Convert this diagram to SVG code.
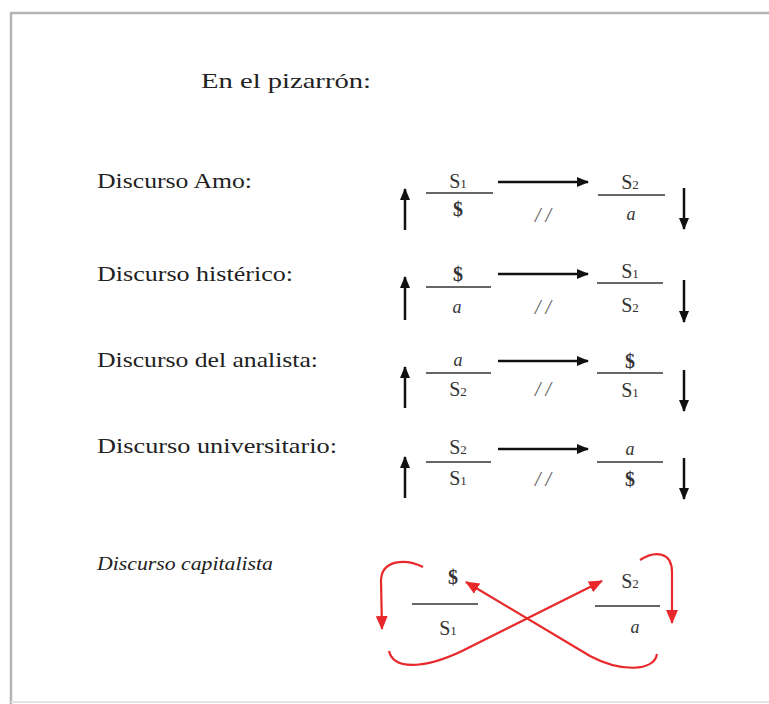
<svg xmlns="http://www.w3.org/2000/svg" width="769" height="704" viewBox="0 0 769 704">
<style>
.lbl{font-family:"Liberation Serif","Times New Roman",serif;font-size:21px;fill:#222}
.ttl{font-size:22px}
.cap{font-style:italic;font-size:19px}
.frac{font-family:"Liberation Serif","Times New Roman",serif;font-size:20px;fill:#333;text-anchor:middle}
.sub{font-size:13px}
.dol{font-weight:bold;font-size:20px}
.it{font-style:italic;font-size:18px}
.sl{font-family:"Liberation Serif","Times New Roman",serif;font-style:italic;font-size:20px;fill:#555;text-anchor:middle}
.bar{stroke:#666;stroke-width:2}
.blk{stroke:#111;stroke-width:2.5;fill:none}
.red{stroke:#e8282a;stroke-width:2.2;fill:none}
</style>
<defs>
<marker id="ah" markerUnits="userSpaceOnUse" markerWidth="12" markerHeight="12" refX="11" refY="6" orient="auto" viewBox="0 0 12 12"><path d="M0,1 L12,6 L0,11 Z" fill="#111"/></marker>
<marker id="rh" markerUnits="userSpaceOnUse" markerWidth="14" markerHeight="14" refX="13" refY="7" orient="auto" viewBox="0 0 14 14"><path d="M0,1 L14,7 L0,13 Z" fill="#e8282a"/></marker>
</defs>
<rect width="769" height="704" fill="#fff"/>
<g id="frame" fill="none" stroke="#b4b4b4" stroke-width="2.5">
<path d="M769,13 L11,13 L11,704"/>
<path d="M11,702 L769,702" stroke="#e4e4e4" stroke-width="2"/>
</g>
<g id="title"><text class="lbl ttl" x="201" y="88" textLength="170" lengthAdjust="spacingAndGlyphs">En el pizarrón:</text></g>
<g id="labels">
<text class="lbl" x="97" y="188" textLength="155" lengthAdjust="spacingAndGlyphs">Discurso Amo:</text>
<text class="lbl" x="97" y="281" textLength="196" lengthAdjust="spacingAndGlyphs">Discurso histérico:</text>
<text class="lbl" x="97" y="367" textLength="221" lengthAdjust="spacingAndGlyphs">Discurso del analista:</text>
<text class="lbl" x="97" y="453" textLength="240" lengthAdjust="spacingAndGlyphs">Discurso universitario:</text>
<text class="lbl cap" x="97" y="570" textLength="176" lengthAdjust="spacingAndGlyphs">Discurso capitalista</text>
</g>
<g id="amo">
<line class="bar" x1="426" y1="193" x2="493" y2="193"/>
<text class="frac" x="458" y="188">S<tspan class="sub">1</tspan></text>
<text class="frac dol" x="458" y="216">$</text>
<line class="bar" x1="598" y1="195" x2="665" y2="195"/>
<text class="frac" x="630" y="189">S<tspan class="sub">2</tspan></text>
<text class="frac it" x="631" y="220">a</text>
<text class="sl" x="543" y="222">/ /</text>
</g>
<g id="histerico">
<line class="bar" x1="426" y1="287" x2="491" y2="287"/>
<text class="frac dol" x="458" y="281">$</text>
<text class="frac it" x="457" y="313">a</text>
<line class="bar" x1="597" y1="283" x2="663" y2="283"/>
<text class="frac" x="630" y="278">S<tspan class="sub">1</tspan></text>
<text class="frac" x="630" y="312">S<tspan class="sub">2</tspan></text>
<text class="sl" x="543" y="314">/ /</text>
</g>
<g id="analista">
<line class="bar" x1="426" y1="373" x2="491" y2="373"/>
<text class="frac it" x="458" y="366">a</text>
<text class="frac" x="458" y="396">S<tspan class="sub">2</tspan></text>
<line class="bar" x1="597" y1="373" x2="663" y2="373"/>
<text class="frac dol" x="630" y="368">$</text>
<text class="frac" x="630" y="397">S<tspan class="sub">1</tspan></text>
<text class="sl" x="543" y="396">/ /</text>
</g>
<g id="universitario">
<line class="bar" x1="426" y1="462" x2="491" y2="462"/>
<text class="frac" x="458" y="454">S<tspan class="sub">2</tspan></text>
<text class="frac" x="458" y="485">S<tspan class="sub">1</tspan></text>
<line class="bar" x1="597" y1="462" x2="663" y2="462"/>
<text class="frac it" x="630" y="455">a</text>
<text class="frac dol" x="630" y="486">$</text>
<text class="sl" x="543" y="486">/ /</text>
</g>
<g id="capitalista">
<line class="bar" x1="412" y1="604" x2="478" y2="604"/>
<text class="frac dol" x="453" y="584">$</text>
<text class="frac" x="448" y="635">S<tspan class="sub">1</tspan></text>
<line class="bar" x1="595" y1="606" x2="660" y2="606"/>
<text class="frac" x="630" y="588">S<tspan class="sub">2</tspan></text>
<text class="frac it" x="635" y="633">a</text>
</g>
<g id="connectors">
<path class="blk" d="M405,230 L405,189" marker-end="url(#ah)"/>
<path class="blk" d="M498,182 L588,182" marker-end="url(#ah)"/>
<path class="blk" d="M684,188 L684,229" marker-end="url(#ah)"/>
<path class="blk" d="M405,320 L405,277" marker-end="url(#ah)"/>
<path class="blk" d="M498,274 L588,274" marker-end="url(#ah)"/>
<path class="blk" d="M684,280 L684,322" marker-end="url(#ah)"/>
<path class="blk" d="M405,408 L405,367" marker-end="url(#ah)"/>
<path class="blk" d="M498,361 L588,361" marker-end="url(#ah)"/>
<path class="blk" d="M684,370 L684,411" marker-end="url(#ah)"/>
<path class="blk" d="M405,498 L405,457" marker-end="url(#ah)"/>
<path class="blk" d="M498,449 L588,449" marker-end="url(#ah)"/>
<path class="blk" d="M684,458 L684,499" marker-end="url(#ah)"/>
<path class="red" d="M423,567 C405,558 382,560 381,580 L382,629" marker-end="url(#rh)"/>
<path class="red" d="M640,560 C655,550 672,552 672,572 L672,623" marker-end="url(#rh)"/>
<path class="red" d="M389,651 C394,672 430,668 470,647 L602,581" marker-end="url(#rh)"/>
<path class="red" d="M657,654 C654,672 620,672 590,656 L466,582" marker-end="url(#rh)"/>
</g>
</svg>
